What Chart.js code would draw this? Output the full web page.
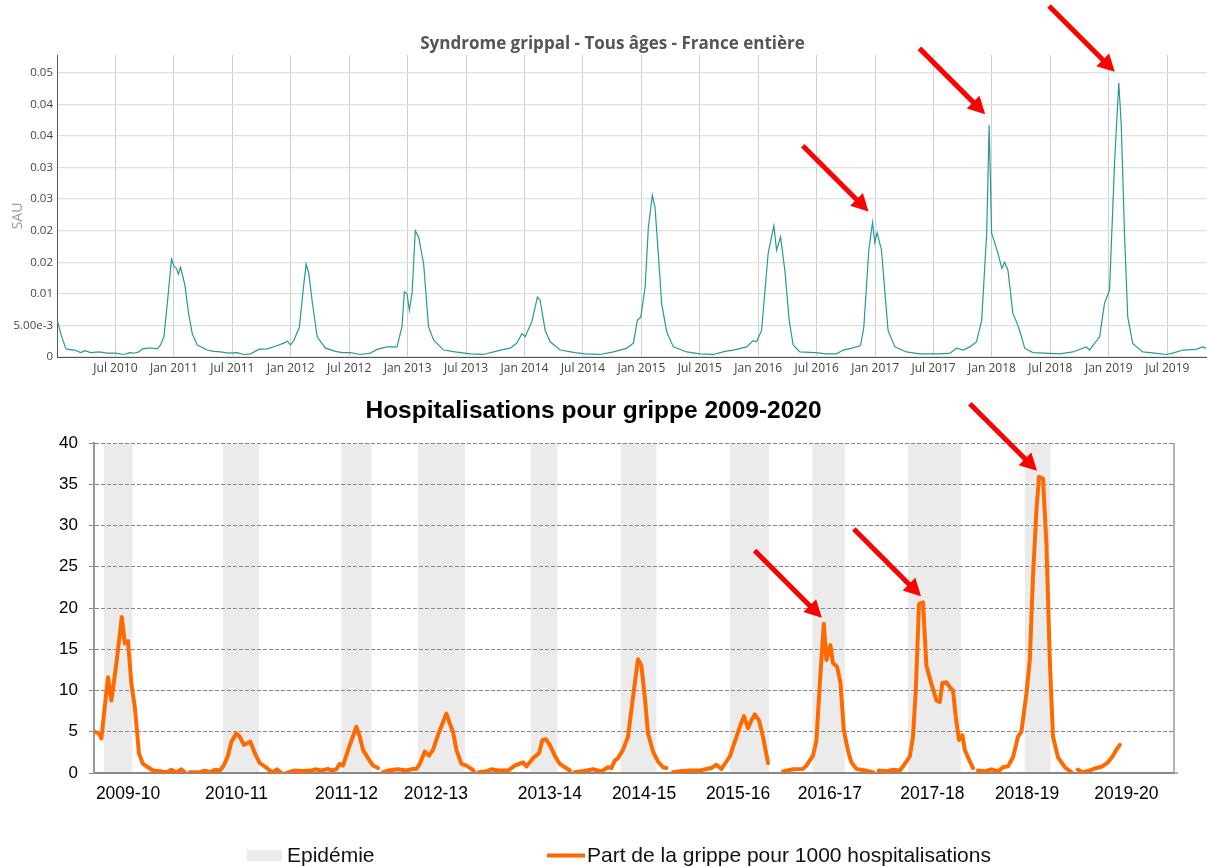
<!DOCTYPE html>
<html lang="fr">
<head>
<meta charset="utf-8">
<title>Syndrome grippal et hospitalisations pour grippe</title>
<script src="https://cdn.jsdelivr.net/npm/chart.js@4.4.0/dist/chart.umd.min.js"></script>
<style>
    html, body { margin: 0; padding: 0; background: #fff; }
    #haut { position: absolute; left: 0; top: 0; width: 1207px; height: 390px; }
    #bas { position: absolute; left: 0; top: 390px; width: 1207px; height: 476px; }
</style>
</head>
<body>
<div id="haut"><canvas id="sauChart"></canvas></div>
<div id="bas"><canvas id="hospChart"></canvas></div>
<script>
// --- Données : syndrome grippal (SAU), date en année décimale
const sauDates = [
    2010.006, 2010.032, 2010.074, 2010.089, 2010.150, 2010.202, 2010.240, 2010.288, 2010.360, 2010.431,
    2010.500, 2010.573, 2010.620, 2010.658, 2010.700, 2010.730, 2010.780, 2010.815, 2010.858, 2010.886,
    2010.915, 2010.944, 2010.980, 2011.003, 2011.023, 2011.038, 2011.057, 2011.094, 2011.126, 2011.157,
    2011.200, 2011.285, 2011.340, 2011.399, 2011.470, 2011.542, 2011.598, 2011.656, 2011.726, 2011.798,
    2011.869, 2011.940, 2011.972, 2011.997, 2012.026, 2012.074, 2012.109, 2012.132, 2012.154, 2012.183,
    2012.226, 2012.297, 2012.382, 2012.440, 2012.510, 2012.596, 2012.681, 2012.738, 2012.824, 2012.909,
    2012.952, 2012.972, 2012.995, 2013.015, 2013.038, 2013.066, 2013.094, 2013.137, 2013.179, 2013.222,
    2013.308, 2013.408, 2013.536, 2013.650, 2013.735, 2013.821, 2013.878, 2013.935, 2013.978, 2014.006,
    2014.063, 2014.111, 2014.134, 2014.177, 2014.220, 2014.305, 2014.433, 2014.519, 2014.647, 2014.761,
    2014.818, 2014.875, 2014.932, 2014.966, 2014.995, 2015.032, 2015.060, 2015.094, 2015.117, 2015.145,
    2015.174, 2015.217, 2015.274, 2015.388, 2015.502, 2015.615, 2015.715, 2015.786, 2015.901, 2015.957,
    2015.986, 2016.029, 2016.085, 2016.134, 2016.157, 2016.191, 2016.228, 2016.265, 2016.299, 2016.356,
    2016.485, 2016.585, 2016.670, 2016.727, 2016.803, 2016.875, 2016.903, 2016.946, 2016.978, 2016.998,
    2017.017, 2017.055, 2017.083, 2017.111, 2017.169, 2017.268, 2017.385, 2017.556, 2017.641, 2017.696,
    2017.755, 2017.810, 2017.867, 2017.912, 2017.955, 2017.976, 2017.997, 2018.017, 2018.051, 2018.085,
    2018.109, 2018.137, 2018.179, 2018.209, 2018.237, 2018.280, 2018.350, 2018.451, 2018.579, 2018.692,
    2018.807, 2018.835, 2018.921, 2018.963, 2019.006, 2019.049, 2019.085, 2019.106, 2019.134, 2019.162,
    2019.205, 2019.291, 2019.391, 2019.491, 2019.562, 2019.633, 2019.747, 2019.803, 2019.832
];
const sauValues = [
    0.0056, 0.0037, 0.0014, 0.0012, 0.0011, 0.0007, 0.0010, 0.0007, 0.0008, 0.0006,
    0.0006, 0.0004, 0.0007, 0.0006, 0.0008, 0.0013, 0.0014, 0.0014, 0.0013, 0.0019,
    0.0032, 0.0085, 0.0155, 0.0143, 0.0140, 0.0131, 0.0142, 0.0114, 0.0069, 0.0037,
    0.0019, 0.0011, 0.0009, 0.0008, 0.0006, 0.0007, 0.0004, 0.0005, 0.0012, 0.0013,
    0.0017, 0.0022, 0.0025, 0.0019, 0.0026, 0.0047, 0.0111, 0.0147, 0.0133, 0.0089,
    0.0032, 0.0014, 0.0009, 0.0007, 0.0007, 0.0004, 0.0006, 0.0012, 0.0016, 0.0016,
    0.0048, 0.0103, 0.0100, 0.0074, 0.0101, 0.0200, 0.0190, 0.0148, 0.0048, 0.0027,
    0.0011, 0.0008, 0.0005, 0.0004, 0.0008, 0.0012, 0.0014, 0.0022, 0.0037, 0.0032,
    0.0056, 0.0095, 0.0090, 0.0042, 0.0024, 0.0011, 0.0007, 0.0005, 0.0004, 0.0008,
    0.0011, 0.0014, 0.0022, 0.0058, 0.0063, 0.0110, 0.0205, 0.0256, 0.0237, 0.0164,
    0.0084, 0.0040, 0.0016, 0.0008, 0.0005, 0.0004, 0.0009, 0.0011, 0.0016, 0.0026,
    0.0024, 0.0042, 0.0164, 0.0208, 0.0169, 0.0190, 0.0137, 0.0058, 0.0019, 0.0008,
    0.0007, 0.0005, 0.0005, 0.0011, 0.0014, 0.0018, 0.0046, 0.0169, 0.0213, 0.0181,
    0.0197, 0.0169, 0.0105, 0.0042, 0.0016, 0.0008, 0.0005, 0.0005, 0.0006, 0.0014,
    0.0011, 0.0016, 0.0024, 0.0058, 0.0196, 0.0367, 0.0196, 0.0185, 0.0164, 0.0140,
    0.0150, 0.0137, 0.0069, 0.0056, 0.0042, 0.0014, 0.0007, 0.0006, 0.0005, 0.0008,
    0.0016, 0.0011, 0.0032, 0.0085, 0.0106, 0.0307, 0.0434, 0.0369, 0.0196, 0.0063,
    0.0021, 0.0008, 0.0006, 0.0004, 0.0007, 0.0011, 0.0012, 0.0016, 0.0014
];
const sauTickPos = [2010.5, 2011, 2011.5, 2012, 2012.5, 2013, 2013.5, 2014, 2014.5, 2015,
                    2015.5, 2016, 2016.5, 2017, 2017.5, 2018, 2018.5, 2019, 2019.5];
const sauTickLabels = ['Jul 2010', 'Jan 2011', 'Jul 2011', 'Jan 2012', 'Jul 2012', 'Jan 2013', 'Jul 2013',
                       'Jan 2014', 'Jul 2014', 'Jan 2015', 'Jul 2015', 'Jan 2016', 'Jul 2016', 'Jan 2017',
                       'Jul 2017', 'Jan 2018', 'Jul 2018', 'Jan 2019', 'Jul 2019'];
const sauYTicks = [0, 0.005, 0.01, 0.015, 0.02, 0.025, 0.03, 0.035, 0.04, 0.045];
const sauYLabels = ['0', '5.00e-3', '0.01', '0.02', '0.02', '0.03', '0.03', '0.04', '0.04', '0.05'];
// saisons signalées par une flèche (fenêtres en années)
const sauArrowWindows = [[2016.8, 2017.2], [2017.8, 2018.2], [2018.9, 2019.3]];

// --- Données : hospitalisations pour grippe (pour 1000), index de semaine, null = coupure entre saisons
const hospWeeks = [
    0, 2.5, 3.7, 7, 8.7, 11.2, 13.9, 15.4, 17, 18.7, 20.4, 22.5, 24.5, 27, 29.5, 32.9, 36.2, 38.7, 41.2, 43.7, 45.4, 46.6,
    47.9, 52.9, 55.4, 57.9, 60.4, 62.9, 64.9, 67, 68.7, 71.2, 72.9, 74.9, 78.2, 80.4, 82.9, 85.4, 87.9, 89.5, 91.5, 93.7, 95,
    96.2, 100.4, 104.5, 108.7, 110.4, 113.7, 117, 118.7, 121.2, 122.9, 124.5, 127.9, 131.2, 132.9, 134.5, 137, 139.5, 142, 143.2,
    144.5, 147, 152, 156.2, 159.5, 161.2, 162.9, 165.4, 167.5, 169.5, 172, 176.2, 177.9, 179.5, 181.2, 183.7, 186.2, 188.7, 189.9, 191,
    192.4, 196.2, 198.7, 202, 207, 210.4, 214.5, 216.2, 219.5, 222.5, 224.2, 225.9, 227.9, 230.4, 232.9, 235.4, 237.9, 239,
    240.4, 243.7, 246.2, 249.5, 253.7, 257, 258.7, 260.4, 262, 264.5, 267, 269.5, 272, 273.7, 275.4, 277, 279.5, 282, 284.5, 286.2, 288,
    289.5, 292.9, 297.9, 302.9, 308.7, 311.2, 313.7, 317.9, 320.4, 322.9, 325, 327, 328.7, 330.4, 332.5, 334.5, 337, 340,
    344.5, 349.5, 354.5, 356.2, 359.5, 361.2, 362.9, 364.9, 366.2, 368.2, 369.5, 371.5, 373.2, 374.9, 377, 378.7, 381.2, 385.4, 389.5, 391,
    392.4, 396.2, 399.5, 402.9, 405.4, 407.9, 409.5, 410.9, 412.5, 414.5, 416.2, 418.7, 421.2, 422.9, 424.2, 426.2, 427.9, 429.5, 430.9, 432.5, 434.2, 435.4, 437.9, 439.5, 441,
    442, 445.4, 448.7, 452, 454.5, 457, 459.5, 462, 463.7, 466.2, 467.9, 469.5, 471.2, 472.5, 474.5, 476.2, 477.9, 479.5, 482, 485.4, 488.7, 490,
    492, 494.5, 497.9, 500.4, 503.7, 507, 509.5, 510.9, 512.9
];
const hospRates = [
    5.0, 4.8, 4.2, 11.6, 8.8, 13.3, 18.9, 15.7, 16.0, 10.8, 8.0, 2.35, 1.1, 0.7, 0.3, 0.2, 0.1, 0.4, 0.1, 0.45, 0.1, null,
    0.1, 0.1, 0.3, 0.1, 0.4, 0.3, 0.9, 2.1, 3.8, 4.8, 4.4, 3.4, 3.8, 2.4, 1.2, 0.8, 0.3, 0.1, 0.45, 0, null,
    0, 0.3, 0.25, 0.3, 0.45, 0.3, 0.5, 0.3, 0.45, 1.1, 0.9, 3.4, 5.6, 4.4, 2.8, 1.8, 0.9, 0.6, null,
    0.1, 0.3, 0.45, 0.3, 0.5, 0.5, 1.1, 2.6, 2.1, 2.8, 4.6, 7.2, 6.0, 5.0, 2.8, 1.1, 0.9, 0.5, 0.25, null,
    0.1, 0.2, 0.45, 0.3, 0.3, 0.9, 1.3, 0.8, 1.8, 2.4, 4.0, 4.1, 3.4, 2.1, 1.1, 0.7, 0.3, null,
    0.1, 0.2, 0.3, 0.45, 0.2, 0.7, 0.6, 1.5, 1.8, 2.8, 4.4, 9.2, 13.8, 13.0, 9.2, 4.8, 2.6, 1.4, 0.7, 0.6, null,
    0.1, 0.2, 0.3, 0.3, 0.6, 1.0, 0.5, 2.0, 3.8, 5.6, 6.9, 5.4, 6.4, 7.1, 6.4, 4.4, 1.2, null,
    0.2, 0.45, 0.5, 0.9, 2.1, 3.9, 10.8, 18.1, 13.7, 15.5, 13.3, 12.9, 11.0, 5.2, 2.7, 1.3, 0.5, 0.3, 0.1, null,
    0.3, 0.2, 0.4, 0.3, 1.1, 2.0, 4.4, 10.0, 20.5, 20.7, 13.0, 10.8, 8.8, 8.6, 10.9, 11.0, 10.4, 10.0, 6.8, 4.0, 4.6, 2.8, 1.4, 0.6, null,
    0.3, 0.2, 0.45, 0.2, 0.7, 0.8, 1.9, 4.4, 5.0, 9.6, 13.7, 23.8, 31.8, 35.9, 35.7, 27.8, 13.7, 4.4, 1.9, 0.7, 0.1, null,
    0.4, 0.1, 0.3, 0.55, 0.75, 1.3, 2.1, 2.7, 3.4
];
const hospSeasons = ['2009-10', '2010-11', '2011-12', '2012-13', '2013-14', '2014-15',
                     '2015-16', '2016-17', '2017-18', '2018-19', '2019-20'];
const hospSeasonPos = [17, 71.2, 126.2, 170.9, 227.9, 275, 322, 367.9, 419.2, 466.5, 516.2];
// périodes d'épidémie [début, fin] en semaines
const epidemicStart = [4.9, 64.5, 123.7, 162, 218.4, 263.4, 317.9, 359.2, 407, 465.4];
const epidemicEnd = [19.2, 82.5, 138.7, 185.4, 231.7, 281.2, 337.4, 375.4, 433.4, 478.2];
const hospArrowWindows = [[355, 380], [405, 440], [460, 490]];

// point le plus haut d'une fenêtre
function peakIn(xs, ys, lo, hi) {
    let best = null;
    for (let i = 0; i < xs.length; i++) {
        if (ys[i] === null || xs[i] < lo || xs[i] > hi) continue;
        if (!best || ys[i] > best.y) best = {x: xs[i], y: ys[i]};
    }
    return best;
}

function drawArrow(ctx, tipX, tipY, len) {
    const u = Math.SQRT1_2;
    const head = 17, half = 9;
    const baseX = tipX - u * head, baseY = tipY - u * head;
    ctx.save();
    ctx.strokeStyle = '#f00';
    ctx.fillStyle = '#f00';
    ctx.lineWidth = 5;
    ctx.beginPath();
    ctx.moveTo(tipX - u * len, tipY - u * len);
    ctx.lineTo(baseX + 1, baseY + 1);
    ctx.stroke();
    ctx.beginPath();
    ctx.moveTo(tipX, tipY);
    ctx.lineTo(baseX + u * half, baseY - u * half);
    ctx.lineTo(baseX - u * half, baseY + u * half);
    ctx.closePath();
    ctx.fill();
    ctx.restore();
}

// Graphique du haut : syndrome grippal
const sauDecor = {
    id: 'sauDecor',
    afterDraw(chart) {
        const ctx = chart.ctx;
        ctx.save();
        ctx.font = 'bold 17px "Open Sans"';
        ctx.fillStyle = '#555';
        ctx.textAlign = 'center';
        ctx.textBaseline = 'middle';
        ctx.fillText('Syndrome grippal - Tous âges - France entière', chart.width / 2 + 9, 44);
        // titre de l'axe vertical
        ctx.translate(18, 216);
        ctx.rotate(-Math.PI / 2);
        ctx.font = '14px "Open Sans"';
        ctx.fillStyle = '#999';
        ctx.fillText('SAU', 0, 0);
        ctx.restore();
        sauArrowWindows.forEach(w => {
            const p = peakIn(sauDates, sauValues, w[0], w[1]);
            drawArrow(ctx, chart.scales.x.getPixelForValue(p.x) - 4, chart.scales.y.getPixelForValue(p.y) - 11, 93);
        });
    }
};

let ctx1 = document.getElementById('sauChart').getContext('2d');
let sauChart = new Chart(ctx1, {
    type: 'line',
    data: {
        datasets: [{
            label: 'SAU',
            data: sauDates.map((d, i) => ({x: d, y: sauValues[i]})),
            borderColor: '#2a9897',
            borderWidth: 1.2,
            pointRadius: 0,
            tension: 0,
            fill: false
        }]
    },
    options: {
        responsive: true,
        maintainAspectRatio: false,
        animation: false,
        layout: {padding: {top: 55, left: 0, right: 0, bottom: 0}},
        plugins: {legend: {display: false}, tooltip: {enabled: false}},
        scales: {
            x: {
                type: 'linear',
                min: 2010,
                max: 2019.84,
                afterBuildTicks: s => { s.ticks = sauTickPos.map(v => ({value: v})); },
                afterFit: s => { s.height = 33; },
                ticks: {
                    callback: (v, i) => sauTickLabels[i],
                    color: '#444',
                    font: {family: 'Open Sans', size: 12},
                    padding: 4,
                    maxRotation: 0,
                    autoSkip: false
                },
                grid: {color: '#cfcfcf', drawTicks: false},
                border: {color: '#555', width: 1}
            },
            y: {
                min: 0,
                max: 0.0478,
                afterBuildTicks: s => { s.ticks = sauYTicks.map(v => ({value: v})); },
                afterFit: s => { s.width = 57; },
                ticks: {
                    callback: (v, i) => sauYLabels[i],
                    color: '#444',
                    font: {family: 'Open Sans', size: 11.5},
                    padding: 4
                },
                grid: {color: '#e0e0e0', lineWidth: 1.3, drawTicks: false},
                border: {color: '#555', width: 1}
            }
        }
    },
    plugins: [sauDecor]
});

// Graphique du bas : hospitalisations
const hospDecor = {
    id: 'hospDecor',
    beforeDraw(chart) {
        const {ctx, chartArea, scales} = chart;
        ctx.save();
        ctx.fillStyle = '#ebebeb';
        epidemicStart.forEach((s, i) => {
            const x1 = scales.x.getPixelForValue(s);
            const x2 = scales.x.getPixelForValue(epidemicEnd[i]);
            ctx.fillRect(x1, chartArea.top, x2 - x1, chartArea.bottom - chartArea.top);
        });
        ctx.restore();
    },
    afterDraw(chart) {
        const {ctx, chartArea, scales} = chart;
        ctx.save();
        // bord droit du cadre
        ctx.strokeStyle = '#999';
        ctx.lineWidth = 1.5;
        ctx.beginPath();
        ctx.moveTo(chartArea.right, chartArea.top);
        ctx.lineTo(chartArea.right, chartArea.bottom);
        ctx.lineTo(chartArea.right + 4, chartArea.bottom);
        ctx.stroke();
        // titre
        ctx.fillStyle = '#000';
        ctx.font = 'bold 24.5px "Liberation Sans", Arial, sans-serif';
        ctx.textAlign = 'center';
        ctx.textBaseline = 'middle';
        ctx.fillText('Hospitalisations pour grippe 2009-2020', chart.width / 2 - 10, 21);
        // légende
        ctx.font = '21px "Liberation Sans", Arial, sans-serif';
        ctx.textAlign = 'left';
        ctx.textBaseline = 'alphabetic';
        ctx.fillStyle = '#ebebeb';
        ctx.fillRect(247, 460, 35, 11);
        ctx.fillStyle = '#111';
        ctx.fillText('Epidémie', 287, 472);
        ctx.strokeStyle = '#ff6a00';
        ctx.lineWidth = 4;
        ctx.beginPath();
        ctx.moveTo(547, 465.5);
        ctx.lineTo(585, 465.5);
        ctx.stroke();
        ctx.fillText('Part de la grippe pour 1000 hospitalisations', 587, 472);
        ctx.restore();
        hospArrowWindows.forEach(w => {
            const p = peakIn(hospWeeks, hospRates, w[0], w[1]);
            drawArrow(ctx, scales.x.getPixelForValue(p.x) - 2, scales.y.getPixelForValue(p.y) - 6, 95);
        });
    }
};

let ctx2 = document.getElementById('hospChart').getContext('2d');
let hospChart = new Chart(ctx2, {
    type: 'line',
    data: {
        datasets: [{
            label: 'Part de la grippe pour 1000 hospitalisations',
            data: hospWeeks.map((w, i) => ({x: w, y: hospRates[i]})),
            borderColor: '#ff6a00',
            borderWidth: 4,
            pointRadius: 0,
            tension: 0,
            spanGaps: false,
            borderJoinStyle: 'round',
            borderCapStyle: 'round',
            fill: false
        }]
    },
    options: {
        responsive: true,
        maintainAspectRatio: false,
        animation: false,
        layout: {padding: {top: 53, left: 0, right: 33, bottom: 0}},
        plugins: {legend: {display: false}, tooltip: {enabled: false}},
        scales: {
            x: {
                type: 'linear',
                min: 0,
                max: 540,
                afterBuildTicks: s => { s.ticks = hospSeasonPos.map(v => ({value: v})); },
                afterFit: s => { s.height = 93; },
                ticks: {
                    callback: (v, i) => hospSeasons[i],
                    color: '#000',
                    font: {family: 'Liberation Sans', size: 17.5},
                    padding: 11,
                    maxRotation: 0,
                    autoSkip: false
                },
                grid: {display: false, drawTicks: false},
                border: {color: '#888', width: 2}
            },
            y: {
                min: 0,
                max: 40,
                afterFit: s => { s.width = 94; },
                ticks: {
                    stepSize: 5,
                    color: '#000',
                    font: {family: 'Liberation Sans', size: 17},
                    padding: 11
                },
                grid: {color: '#888', lineWidth: 1, tickLength: 5},
                border: {color: '#999', width: 2, dash: [4, 2]}
            }
        }
    },
    plugins: [hospDecor]
});
</script>
</body>
</html>
